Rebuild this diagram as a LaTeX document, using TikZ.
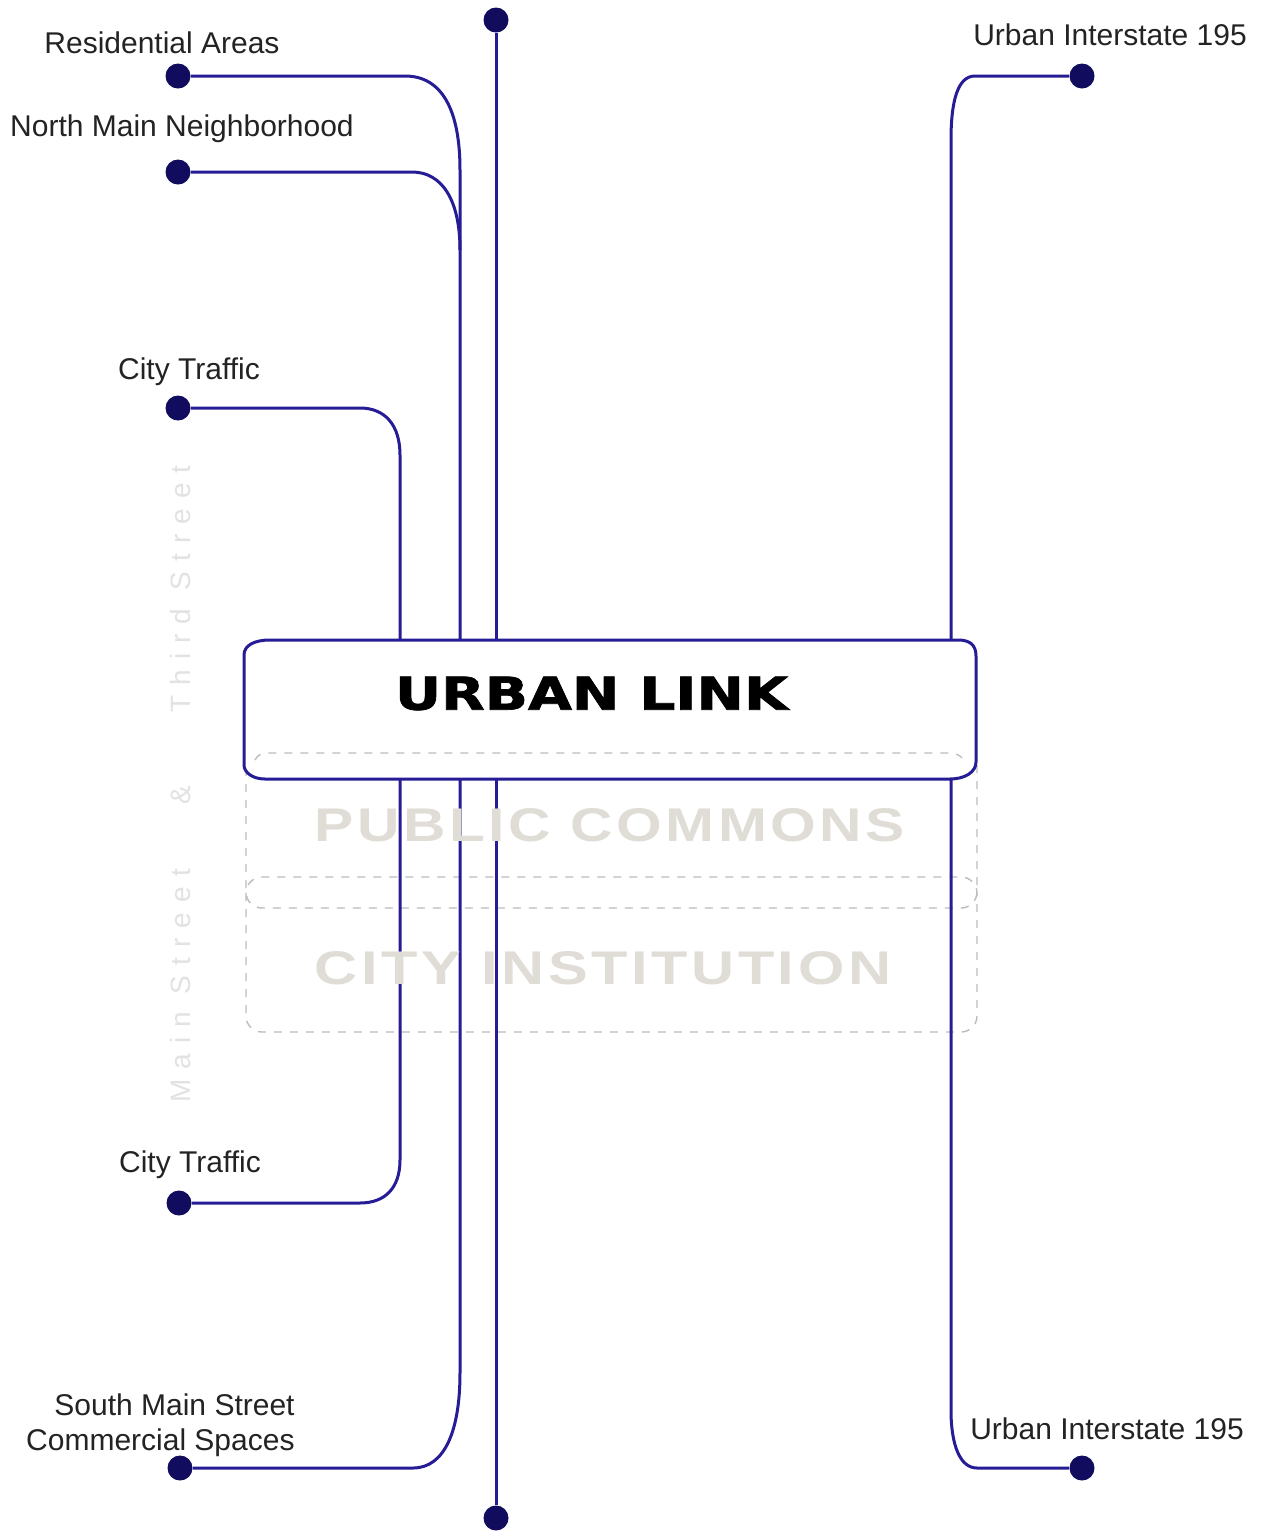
\documentclass[tikz,border=0pt]{standalone}
\usepackage{fontspec}
\usepackage{graphicx}
\setmainfont{Liberation Sans}
\newfontfamily\heavyfont{DejaVu Sans}[UprightFont={* Bold}, FakeBold=1.5]
\newfontfamily\boldsans{Liberation Sans}[UprightFont={* Bold}, LetterSpace=6]
\newfontfamily\streetfont{Liberation Sans}[LetterSpace=36]
\definecolor{navy}{RGB}{38,28,150}
\definecolor{dotc}{RGB}{18,12,95}
\definecolor{labc}{RGB}{35,35,35}
\definecolor{fade}{RGB}{224,221,214}
\definecolor{streetc}{RGB}{226,226,226}
\definecolor{dashc}{RGB}{188,188,188}
\tikzset{
  navyline/.style={draw=navy, line width=1.5pt},
  dashpill/.style={draw=dashc, line width=0.7pt, dash pattern=on 4pt off 4pt},
  enddot/.style={circle, fill=dotc, minimum size=12.5pt, inner sep=0pt},
  lab/.style={text=labc, font=\fontsize{15}{18}\selectfont, inner sep=0pt, anchor=base},
  streetlab/.style={text=streetc, font=\fontsize{14}{16}\streetfont, inner sep=0pt, anchor=base, rotate=90},
}
\begin{document}
\begin{tikzpicture}[x=0.5pt, y=-0.5pt]
\fill[white] (0,0) rectangle (1261,1533);
\useasboundingbox (0,0) rectangle (1261,1533);

% dashed stacked pills
\draw[dashpill, rounded corners=8pt] (246,752) rectangle (977,908);
\draw[dashpill, rounded corners=8pt] (246,877) rectangle (977,1032);

% end dots
\node[enddot] (dtop) at (496,20) {};
\node[enddot] (dbot) at (496,1518) {};
\node[enddot] (dres) at (178,76) {};
\node[enddot] (dnm) at (178,172) {};
\node[enddot] (dct1) at (178,408) {};
\node[enddot] (dct2) at (179,1203) {};
\node[enddot] (dsouth) at (180,1468) {};
\node[enddot] (dui1) at (1082,76) {};
\node[enddot] (dui2) at (1082,1468) {};

% connectors
\draw[navyline] (dtop) -- (dbot);
\draw[navyline] (dres) -- (405,76) .. controls (442,76) and (460,110) .. (460,170) -- (460,1373) .. controls (460,1430) and (445,1468) .. (413,1468) -- (dsouth);
\draw[navyline] (dnm) -- (412,172) .. controls (442,172) and (460,200) .. (460,250);
\draw[navyline] (dct1) -- (360,408) .. controls (385,408) and (400,425) .. (400,455) -- (400,1160) .. controls (400,1188) and (385,1203) .. (360,1203) -- (dct2);
\draw[navyline] (dui1) -- (975,76) .. controls (958,76) and (951,100) .. (951,140) -- (951,1410) .. controls (951,1445) and (960,1468) .. (977,1468) -- (dui2);

% urban link box
\draw[navyline, fill=white] (270,640) -- (958,640) .. controls (970,640) and (976,645) .. (976,656) -- (976,762) .. controls (976,772) and (965,779) .. (950,779) -- (265,779) .. controls (252,779) and (244,772) .. (244,765) -- (244,655) .. controls (244,645) and (255,640) .. (270,640) -- cycle;
\draw[dashpill] (255,760) .. controls (258,754) and (262,753) .. (270,753) -- (948,753) .. controls (955,753) and (960,755) .. (962,758);

% box texts
\node[inner sep=0pt] (ul) at (591.5,693.5) {\resizebox{196.5pt}{16.5pt}{\heavyfont URBAN LINK}};
\node[inner sep=0pt, text=fade] (pc) at (610,825.5) {\resizebox{295pt}{16.5pt}{\boldsans PUBLIC COMMONS}};
\node[inner sep=0pt, text=fade] (ci) at (603,968.5) {\resizebox{288pt}{16.5pt}{\boldsans CITY INSTITUTION}};

% street names
\node[streetlab] (sm) at (190,986) {Main Street};
\node[streetlab] (amp) at (190,795) {\&};
\node[streetlab] (ts) at (190,589) {Third Street};

% labels
\node[lab] (lres) at (162,53) {Residential Areas};
\node[lab] (lnm) at (182,136) {North Main Neighborhood};
\node[lab] (lct1) at (189,379) {City Traffic};
\node[lab] (lct2) at (190,1172) {City Traffic};
\node[lab, anchor=base east] (lsm1) at (295,1415) {South Main Street};
\node[lab, anchor=base east] (lsm2) at (295,1450) {Commercial Spaces};
\node[lab] (lui1) at (1110,45) {Urban Interstate 195};
\node[lab] (lui2) at (1107,1439) {Urban Interstate 195};
\end{tikzpicture}
\end{document}
